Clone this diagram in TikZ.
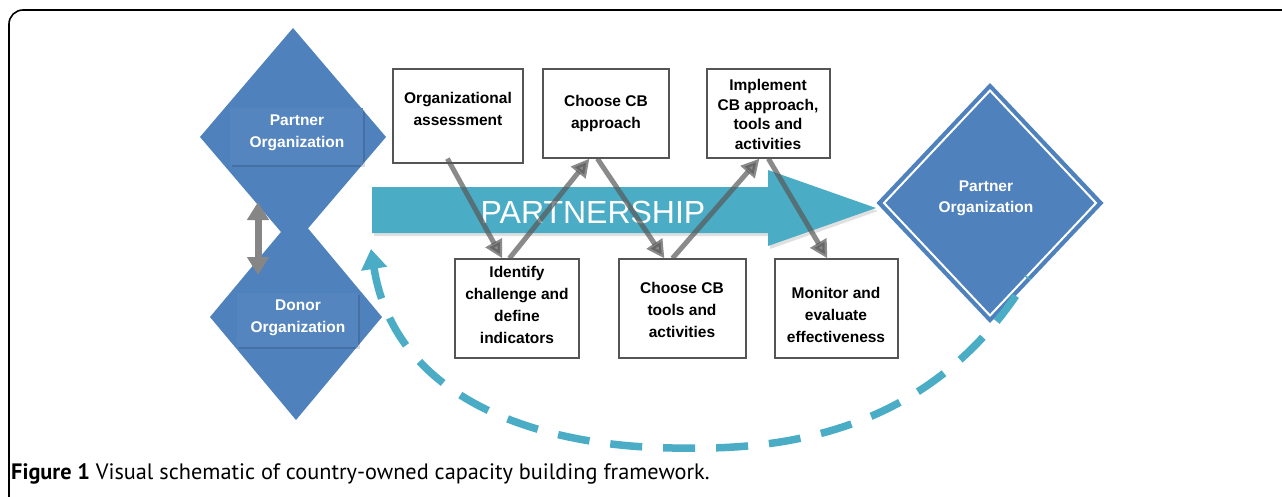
\documentclass[tikz,border=0pt]{standalone}
\usepackage{fontspec}
\setmainfont{Liberation Sans}
\newfontfamily\capfont{PT Sans}
\usetikzlibrary{shapes.geometric,arrows.meta,calc}
\definecolor{dblue}{HTML}{4F81BD}
\definecolor{teal}{HTML}{4BACC6}
\definecolor{boxline}{HTML}{555555}
\definecolor{arrgray}{HTML}{585858}
\begin{document}
\begin{tikzpicture}[x=1pt,y=-1pt,
  dia/.style={shape=diamond,fill=dblue,inner sep=0pt,outer sep=0pt},
  tag/.style={rectangle,fill=dblue!97!white,inner sep=0pt,outer sep=0pt},
  tagshade/.style={rectangle,fill=black,opacity=0.13,inner sep=0pt,outer sep=0pt},
  wtext/.style={text=white,font=\bfseries\fontsize{15.5}{22}\selectfont,align=center},
  stepbox/.style={rectangle,draw=boxline,line width=1.2pt,fill=white,inner sep=0pt},
  btext/.style={font=\bfseries\fontsize{15.5}{22}\selectfont,align=center},
  flow/.style={arrgray,opacity=0.7,line width=5pt,
    -{Triangle[length=18pt,width=18pt]}},
  loop/.style={teal,line width=7.5pt,dash pattern=on 32pt off 21pt,
    {Triangle[length=20pt,width=25pt]}-}
]
\useasboundingbox (0,0) rectangle (1282,496);
% frame
\draw[line width=1.6pt] (9,497) -- (9,24) arc[start angle=180,end angle=270,radius=14] -- (1283,10);

% left pair of organisations
\node[dia,minimum width=172pt,minimum height=206pt] (donor) at (296,317) {};
\node[dia,minimum width=186pt,minimum height=218pt] (partnerL) at (293,137) {};
\node[tagshade,minimum width=133pt,minimum height=57pt] (pshade) at (298,138.5) {};
\node[tag,minimum width=133pt,minimum height=57pt] (ptag) at (296.5,136.5) {};
\node[tagshade,minimum width=121pt,minimum height=54pt] (dshade) at (299,322) {};
\node[tag,minimum width=121pt,minimum height=54pt] (dtag) at (297.5,320) {};
\node[wtext] (ptext) at (297,132.5) {Partner\\Organization};
\node[wtext] (dtext) at (298,318) {Donor\\Organization};
\coordinate (linkA) at (258,202);
\coordinate (linkB) at (258,275);
\draw[gray!95,line width=7pt,{Triangle[length=18pt,width=21pt]}-{Triangle[length=18pt,width=21pt]}] (linkA) -- (linkB);

% partnership arrow
\fill[black,opacity=0.12] (374,190) -- (770,190) -- (770,173) -- (878,211) -- (770,249) -- (770,236) -- (374,236) -- cycle;
\fill[teal] (372,187) -- (768,187) -- (768,170) -- (876,208) -- (768,246) -- (768,233) -- (372,233) -- cycle;
\node[text=white,font=\fontsize{32}{36}\selectfont,anchor=base] (pship) at (593,223) {PARTNERSHIP};

% process steps
\node[stepbox,minimum width=130pt,minimum height=94pt] (org) at (458,116) {};
\node[stepbox,minimum width=126pt,minimum height=89pt] (appr) at (606,113.5) {};
\node[stepbox,minimum width=123pt,minimum height=89pt] (impl) at (768.5,113.5) {};
\node[stepbox,minimum width=124pt,minimum height=99pt] (ident) at (517,308.5) {};
\node[stepbox,minimum width=127pt,minimum height=99pt] (tools) at (682.5,308.5) {};
\node[stepbox,minimum width=123pt,minimum height=99pt] (mon) at (836.5,308.5) {};
\node[btext] at (458,108.5) {Organizational\\assessment};
\node[btext] at (606,113) {Choose CB\\approach};
\node[btext,font=\bfseries\fontsize{15.5}{19.6}\selectfont] at (768,114.5) {Implement\\CB approach,\\tools and\\activities};
\node[btext] at (517,305) {Identify\\challenge and\\define\\indicators};
\node[btext] at (682,310) {Choose CB\\tools and\\activities};
\node[btext] at (836,315) {Monitor and\\evaluate\\effectiveness};

% flow between steps
\draw[flow] ($(org.south west)+(55,-5)$) -- ($(ident.north west)+(48,0)$);
\draw[flow] ($(ident.north west)+(55,0)$) -- ($(appr.south west)+(47,0)$);
\draw[flow] ($(appr.south west)+(55,0)$) -- ($(tools.north west)+(46,0)$);
\draw[flow] ($(tools.north west)+(54,0)$) -- ($(impl.south west)+(53,0)$);
\draw[flow] ($(impl.south west)+(62,0)$) -- ($(mon.north west)+(53,0)$);

% partner organisation on the right
\node[dia,minimum width=227pt,minimum height=240pt] (partnerR) at (990,203) {};
\node[dia,fill=none,draw=white,line width=2pt,minimum width=212pt,minimum height=225pt] (partnerRin) at (990,203) {};
\node[wtext,font=\bfseries\fontsize{15.5}{21}\selectfont] (rtext) at (986,198.5) {Partner\\Organization};

% feedback loop, drawn from its arrow head back to its start
\coordinate (loopS) at (1028,277);
\coordinate (loopE) at (371,249);
\draw[loop] (loopE) .. controls (395,400) and (540,450) .. (690,448)
  .. controls (830,450) and (950,405) .. (loopS);

% caption
\node[anchor=base west,inner sep=0pt,font=\capfont\fontsize{22.3}{26}\selectfont] (cap) at (11,479)
  {\textbf{Figure 1} Visual schematic of country-owned capacity building framework.};
\end{tikzpicture}
\end{document}
